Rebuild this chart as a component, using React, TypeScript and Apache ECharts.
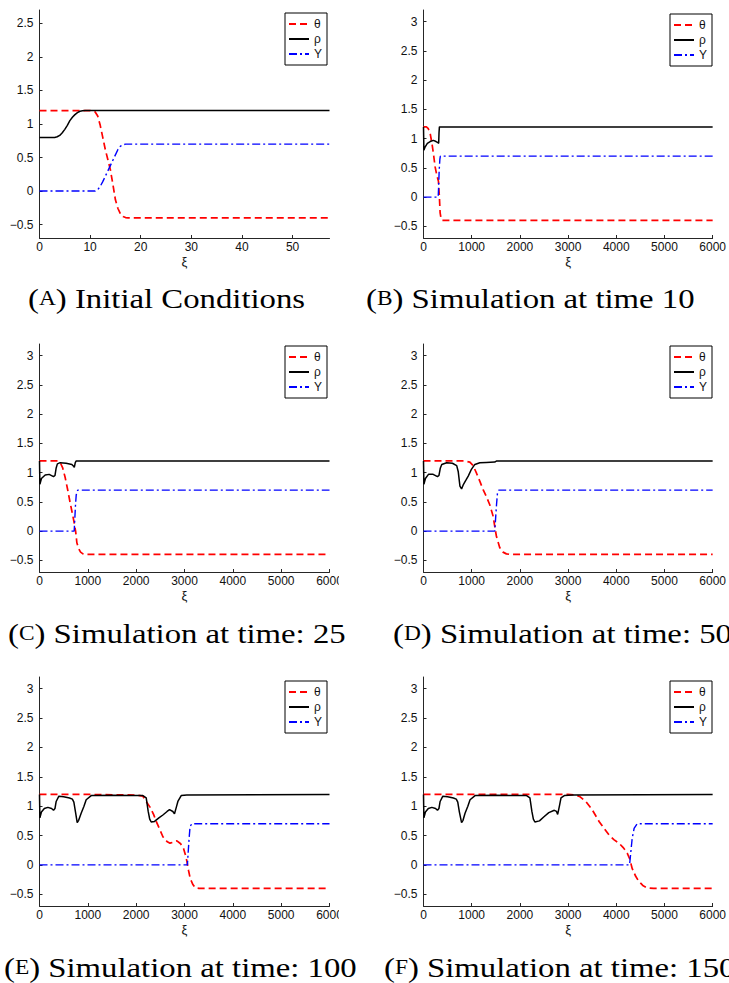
import React, { useEffect, useRef } from "react";
import * as echarts from "echarts";

// ---------- tick labels ----------
const yTicksA = [-0.5, 0, 0.5, 1, 1.5, 2, 2.5];
const yTicksSim = [-0.5, 0, 0.5, 1, 1.5, 2, 2.5, 3];
const xTicksA = [0, 10, 20, 30, 40, 50];
const xTicksSim = [0, 1000, 2000, 3000, 4000, 5000, 6000];
const seriesNames = ["θ", "ρ", "Y"];
const captionLetters = ["A", "B", "C", "D", "E", "F"];
const captionTexts = [
  "Initial Conditions",
  "Simulation at time 10",
  "Simulation at time: 25",
  "Simulation at time: 50",
  "Simulation at time: 100",
  "Simulation at time: 150",
];

// ---------- (A) Initial conditions ----------
const thetaA_x = [0, 10, 11, 11.5, 12, 12.5, 13, 13.5, 14, 14.5, 15, 15.5, 16, 16.5, 17, 17.5, 57.3];
const thetaA_y = [1.2, 1.2, 1.18, 1.12, 0.98, 0.8, 0.62, 0.47, 0.32, 0.1, -0.13, -0.26, -0.34, -0.38, -0.395, -0.4, -0.4];
const rhoA_x = [0, 3, 3.5, 4, 4.5, 5, 5.5, 6, 6.5, 7, 7.5, 8, 8.5, 9, 57.3];
const rhoA_y = [0.8, 0.8, 0.81, 0.83, 0.87, 0.92, 0.98, 1.05, 1.1, 1.14, 1.17, 1.19, 1.197, 1.2, 1.2];
const yA_x = [0, 11, 11.5, 12, 12.5, 13, 13.5, 14, 14.5, 15, 15.5, 16, 16.5, 17, 57.3];
const yA_y = [0, 0, 0.02, 0.07, 0.14, 0.22, 0.3, 0.38, 0.46, 0.54, 0.62, 0.67, 0.69, 0.7, 0.7];

// ---------- (B) time 10 ----------
const thetaB_x = [0, 60, 100, 140, 175, 210, 240, 275, 310, 330, 345, 365, 390, 6000];
const thetaB_y = [1.2, 1.2, 1.17, 1.08, 0.92, 0.72, 0.52, 0.38, 0.27, 0.0, -0.27, -0.37, -0.4, -0.4];
const rhoB_x = [0, 8, 35, 80, 138, 206, 260, 300, 315, 322, 330, 6000];
const rhoB_y = [1.2, 0.8, 0.86, 0.92, 0.95, 0.97, 0.95, 0.93, 0.92, 1.1, 1.2, 1.2];
const yB_x = [0, 305, 315, 325, 340, 350, 6000];
const yB_y = [0, 0, 0.2, 0.45, 0.65, 0.7, 0.7];

// ---------- (C) time 25 ----------
const thetaC_x = [0, 380, 430, 480, 530, 580, 635, 680, 718, 750, 773, 810, 850, 900, 950, 6000];
const thetaC_y = [1.2, 1.2, 1.17, 1.08, 0.92, 0.72, 0.48, 0.3, 0.14, -0.02, -0.2, -0.3, -0.36, -0.39, -0.4, -0.4];
const rhoC_x = [0, 8, 40, 118, 200, 290, 320, 345, 370, 428, 550, 670, 705, 720, 740, 760, 6000];
const rhoC_y = [1.2, 0.8, 0.9, 0.96, 0.97, 0.93, 0.95, 1.08, 1.15, 1.17, 1.16, 1.14, 1.11, 1.09, 1.17, 1.2, 1.2];
const yC_x = [0, 718, 730, 745, 760, 790, 6000];
const yC_y = [0, 0, 0.2, 0.45, 0.62, 0.7, 0.7];

// ---------- (D) time 50 ----------
const thetaD_x = [0, 850, 962, 1030, 1100, 1170, 1237, 1310, 1375, 1443, 1513, 1581, 1650, 1720, 1800, 6000];
const thetaD_y = [1.2, 1.2, 1.18, 1.12, 0.99, 0.85, 0.71, 0.58, 0.45, 0.26, -0.09, -0.28, -0.36, -0.39, -0.4, -0.4];
const rhoD_x = [0, 8, 40, 103, 200, 290, 320, 350, 379, 481, 600, 689, 720, 756, 790, 830, 880, 928, 990, 1066, 1168, 1300, 1478, 1520, 6000];
const rhoD_y = [1.2, 0.8, 0.9, 0.97, 0.97, 0.93, 0.95, 1.08, 1.14, 1.17, 1.16, 1.12, 1.02, 0.77, 0.72, 0.8, 0.87, 0.94, 1.05, 1.14, 1.17, 1.175, 1.18, 1.2, 1.2];
const yD_x = [0, 1478, 1495, 1515, 1535, 1560, 6000];
const yD_y = [0, 0, 0.2, 0.45, 0.65, 0.7, 0.7];

// ---------- (E) time 100 ----------
const thetaE_x = [0, 1000, 2000, 2139, 2208, 2290, 2360, 2415, 2490, 2553, 2636, 2700, 2780, 2843, 2920, 2980, 3020, 3050, 3085, 3118, 3170, 3222, 3300, 6000];
const thetaE_y = [1.2, 1.2, 1.19, 1.17, 1.08, 0.98, 0.86, 0.74, 0.6, 0.48, 0.4, 0.37, 0.39, 0.41, 0.36, 0.28, 0.17, 0.06, -0.1, -0.23, -0.33, -0.39, -0.4, -0.4];
const rhoE_x = [0, 8, 40, 100, 173, 250, 290, 320, 345, 401, 500, 621, 680, 711, 745, 780, 810, 862, 920, 966, 1070, 1500, 2000, 2139, 2208, 2249, 2280, 2311, 2380, 2470, 2553, 2640, 2690, 2759, 2793, 2830, 2863, 2932, 3050, 6000];
const rhoE_y = [1.2, 0.8, 0.9, 0.96, 0.98, 0.96, 0.93, 0.96, 1.08, 1.17, 1.16, 1.14, 1.12, 1.07, 0.9, 0.72, 0.76, 0.88, 1.0, 1.11, 1.18, 1.185, 1.18, 1.18, 1.14, 0.91, 0.78, 0.73, 0.74, 0.8, 0.85, 0.91, 0.94, 0.91, 0.87, 0.98, 1.08, 1.18, 1.19, 1.2];
const yE_x = [0, 3060, 3075, 3095, 3115, 3150, 6000];
const yE_y = [0, 0, 0.2, 0.45, 0.65, 0.7, 0.7];

// ---------- (F) time 150 ----------
const thetaF_x = [0, 3000, 3163, 3250, 3369, 3500, 3643, 3750, 3849, 3950, 4056, 4150, 4227, 4280, 4330, 4400, 4468, 4550, 4639, 4777, 6000];
const thetaF_y = [1.2, 1.2, 1.19, 1.16, 1.08, 0.94, 0.74, 0.62, 0.51, 0.43, 0.37, 0.29, 0.2, 0.1, -0.06, -0.19, -0.28, -0.35, -0.39, -0.4, -0.4];
const rhoF_x = [0, 8, 40, 100, 173, 250, 290, 320, 345, 401, 500, 621, 680, 711, 745, 790, 820, 862, 920, 966, 1070, 1500, 2000, 2139, 2208, 2249, 2280, 2311, 2406, 2500, 2600, 2715, 2760, 2784, 2820, 2853, 2922, 3100, 6000];
const rhoF_y = [1.2, 0.8, 0.9, 0.96, 0.98, 0.96, 0.93, 0.96, 1.08, 1.17, 1.16, 1.14, 1.12, 1.07, 0.9, 0.72, 0.76, 0.88, 1.0, 1.11, 1.18, 1.185, 1.18, 1.18, 1.14, 0.91, 0.78, 0.73, 0.75, 0.82, 0.89, 0.93, 0.91, 0.86, 1.0, 1.14, 1.18, 1.19, 1.2];
const yF_x = [0, 4276, 4300, 4330, 4370, 4433, 6000];
const yF_y = [0, 0, 0.2, 0.45, 0.62, 0.7, 0.7];

const zip = (xs: number[], ys: number[]) => xs.map((x, i) => [x, ys[i]]);

const panels = [
  { theta: zip(thetaA_x, thetaA_y), rho: zip(rhoA_x, rhoA_y), y: zip(yA_x, yA_y), xMax: 57.3, yMax: 2.7, xTicks: xTicksA, yTicks: yTicksA },
  { theta: zip(thetaB_x, thetaB_y), rho: zip(rhoB_x, rhoB_y), y: zip(yB_x, yB_y), xMax: 6000, yMax: 3.2, xTicks: xTicksSim, yTicks: yTicksSim },
  { theta: zip(thetaC_x, thetaC_y), rho: zip(rhoC_x, rhoC_y), y: zip(yC_x, yC_y), xMax: 6000, yMax: 3.2, xTicks: xTicksSim, yTicks: yTicksSim },
  { theta: zip(thetaD_x, thetaD_y), rho: zip(rhoD_x, rhoD_y), y: zip(yD_x, yD_y), xMax: 6000, yMax: 3.2, xTicks: xTicksSim, yTicks: yTicksSim },
  { theta: zip(thetaE_x, thetaE_y), rho: zip(rhoE_x, rhoE_y), y: zip(yE_x, yE_y), xMax: 6000, yMax: 3.2, xTicks: xTicksSim, yTicks: yTicksSim },
  { theta: zip(thetaF_x, thetaF_y), rho: zip(rhoF_x, rhoF_y), y: zip(yF_x, yF_y), xMax: 6000, yMax: 3.2, xTicks: xTicksSim, yTicks: yTicksSim },
];

// layout (pixels)
const layout = [
  { left: 39.5, top: 10, width: 290, height: 228, lx: 285, ly: 13, cx: 28, cy: 299 },
  { left: 423.5, top: 10, width: 291, height: 228, lx: 670, ly: 14, cx: 366, cy: 299 },
  { left: 39.5, top: 344, width: 290, height: 228, lx: 285, ly: 346, cx: 8, cy: 634 },
  { left: 423.5, top: 344, width: 291, height: 228, lx: 670, ly: 346, cx: 393, cy: 634 },
  { left: 39.5, top: 677, width: 290, height: 229, lx: 285, ly: 681, cx: 4, cy: 968 },
  { left: 423.5, top: 677, width: 291, height: 229, lx: 670, ly: 681, cx: 384, cy: 968 },
];

const SANS = "'Liberation Sans', Arial, Helvetica, sans-serif";
const SERIF = "'Liberation Serif', 'Times New Roman', serif";
const AX = "#262626";

function buildOption() {
  const grid: any[] = [];
  const xAxis: any[] = [];
  const yAxis: any[] = [];
  const series: any[] = [];
  const legend: any[] = [];
  const graphic: any[] = [];

  panels.forEach((p, i) => {
    const L = layout[i];
    grid.push({ left: L.left, top: L.top, width: L.width, height: L.height, containLabel: false });
    xAxis.push({
      type: "value",
      gridIndex: i,
      min: 0,
      max: p.xMax,
      name: "ξ",
      nameLocation: "middle",
      nameGap: 17,
      nameTextStyle: { fontFamily: SANS, fontSize: 13, color: "#111" },
      axisLine: { show: true, onZero: false, lineStyle: { color: AX, width: 1 } },
      axisTick: { show: true, inside: true, length: 3, customValues: p.xTicks, lineStyle: { color: AX } },
      axisLabel: {
        customValues: p.xTicks,
        fontFamily: SANS,
        fontSize: 12,
        color: "#111",
        margin: 3,
        showMaxLabel: true,
        hideOverlap: false,
        formatter: (v: number) => String(v),
      },
      splitLine: { show: false },
    });
    yAxis.push({
      type: "value",
      gridIndex: i,
      min: -0.7,
      max: p.yMax,
      axisLine: { show: true, onZero: false, lineStyle: { color: AX, width: 1 } },
      axisTick: { show: true, inside: true, length: 3, customValues: p.yTicks, lineStyle: { color: AX } },
      axisLabel: {
        customValues: p.yTicks,
        fontFamily: SANS,
        fontSize: 12,
        color: "#111",
        margin: 6,
        formatter: (v: number) => String(v).replace("-", "\u2212"),
      },
      splitLine: { show: false },
    });
    series.push(
      {
        name: seriesNames[0], type: "line", xAxisIndex: i, yAxisIndex: i, data: p.theta, symbol: "none",
        lineStyle: { color: "#ff0000", width: 1.7, type: [7, 4] }, itemStyle: { color: "#ff0000" },
      },
      {
        name: seriesNames[1], type: "line", xAxisIndex: i, yAxisIndex: i, data: p.rho, symbol: "none",
        lineStyle: { color: "#000000", width: 1.5, type: "solid" }, itemStyle: { color: "#000000" },
      },
      {
        name: seriesNames[2], type: "line", xAxisIndex: i, yAxisIndex: i, data: p.y, symbol: "none",
        lineStyle: { color: "#0000ff", width: 1.4, type: [8, 3, 2, 3] }, itemStyle: { color: "#0000ff" },
      }
    );
    legend.push({
      left: L.lx,
      top: L.ly,
      orient: "vertical",
      data: seriesNames,
      selectedMode: false,
      backgroundColor: "#fff",
      borderColor: "#000",
      borderWidth: 1,
      borderRadius: 0,
      padding: [5, 5, 5, 3],
      itemGap: 3,
      itemWidth: 20,
      itemHeight: 10,
      itemStyle: { opacity: 0 },
      textStyle: { fontFamily: SANS, fontSize: 12, color: "#111", lineHeight: 12 },
    });
    graphic.push({
      type: "text",
      x: L.cx,
      y: L.cy,
      scaleX: 1.17,
      style: {
        text: `{p|(}{s|${captionLetters[i]}}{p|)} ${captionTexts[i]}`,
        fontFamily: SERIF,
        fontSize: 28,
        fill: "#000",
        align: "left",
        verticalAlign: "middle",
        rich: {
          p: { fontFamily: SERIF, fontSize: 28, fill: "#000" },
          s: { fontFamily: SERIF, fontSize: 20, fill: "#000" },
        },
      },
    });
  });

  // the subfigures of the left column are cropped just right of their axes
  graphic.push(
    { type: "rect", shape: { x: 339, y: 574, width: 14, height: 22 }, style: { fill: "#fff" }, z: 100 },
    { type: "rect", shape: { x: 339, y: 908, width: 14, height: 22 }, style: { fill: "#fff" }, z: 100 }
  );

  return {
    animation: false,
    backgroundColor: "#ffffff",
    grid,
    xAxis,
    yAxis,
    series,
    legend,
    graphic,
  };
}

export default function App() {
  const ref = useRef<HTMLDivElement>(null);
  useEffect(() => {
    if (!ref.current) return;
    const chart = echarts.init(ref.current, null, { renderer: "svg" });
    chart.setOption(buildOption() as any);
    return () => chart.dispose();
  }, []);
  return (
    <div
      ref={ref}
      style={{ position: "fixed", left: 0, top: 0, width: 729, height: 983, background: "#fff", overflow: "hidden" }}
    />
  );
}
